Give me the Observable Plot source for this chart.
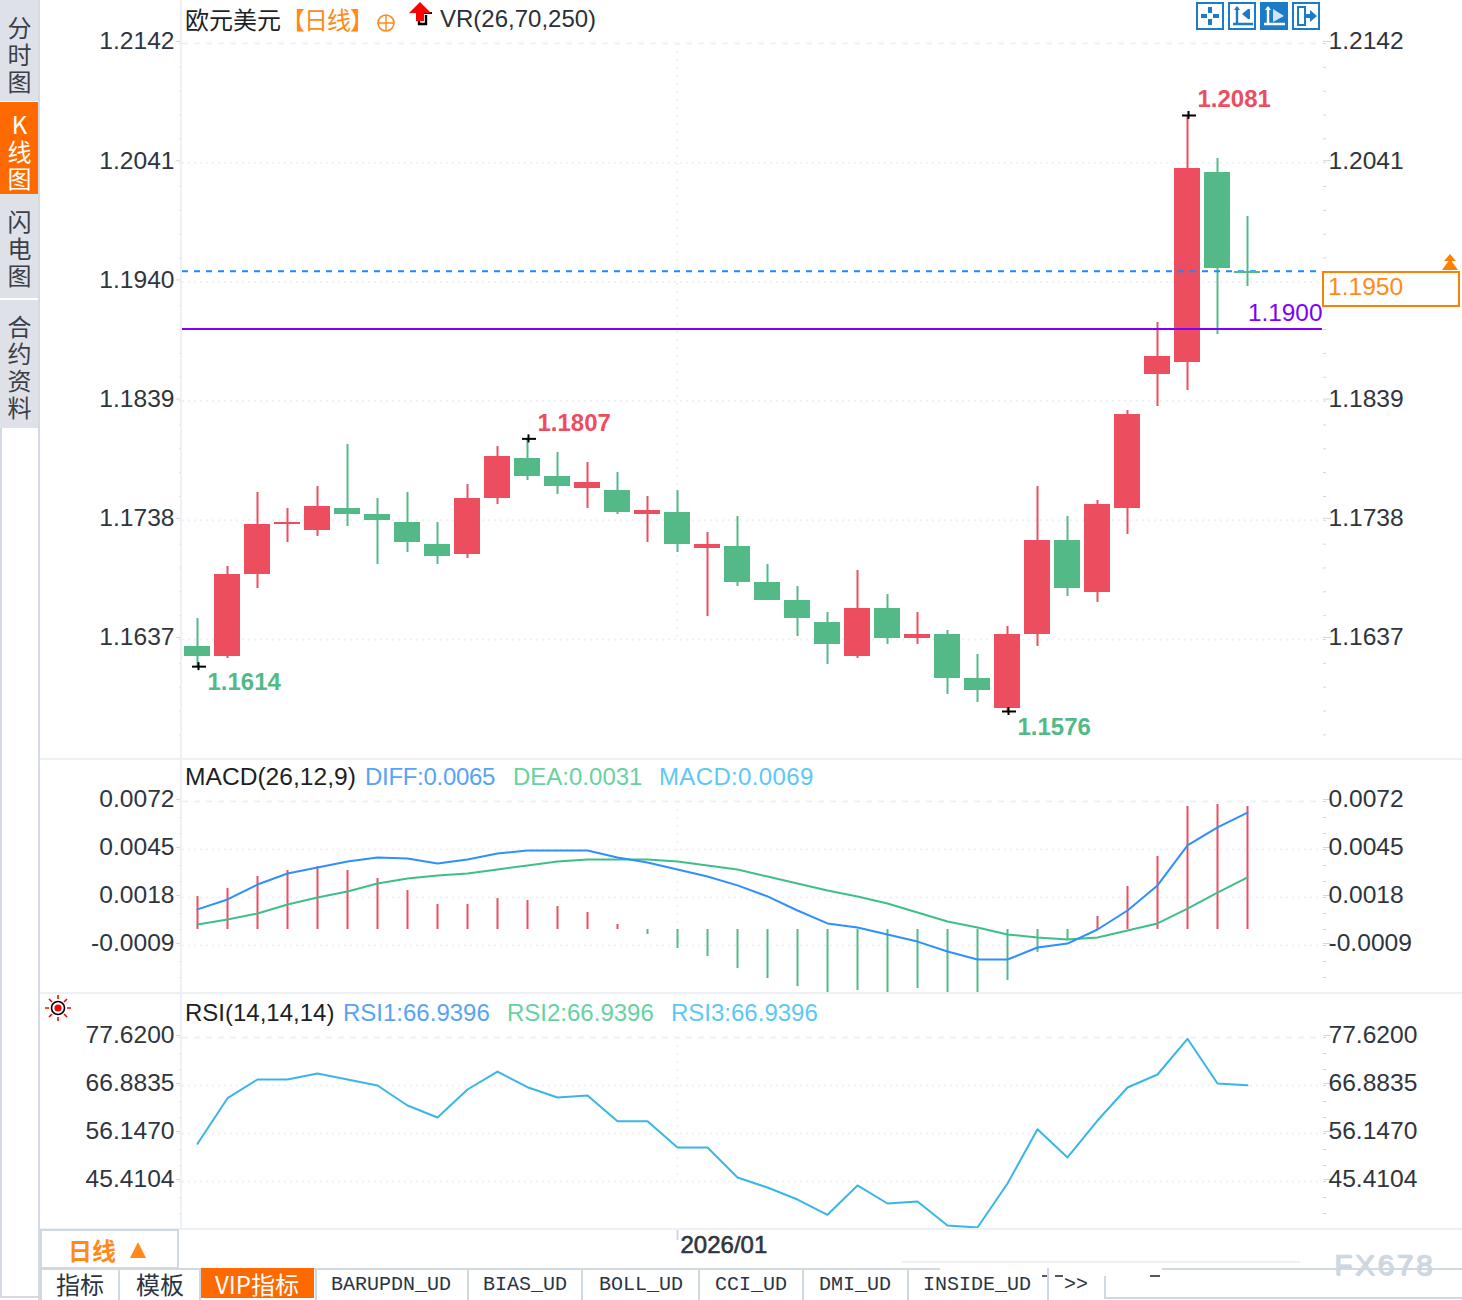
<!DOCTYPE html>
<html>
<head>
<meta charset="utf-8">
<script src="https://cdn.jsdelivr.net/npm/d3@7"></script>
<script src="https://cdn.jsdelivr.net/npm/@observablehq/plot@0.6"></script>
<style>
html,body{margin:0;padding:0;background:#fff}
#page{position:relative;width:1462px;height:1300px;overflow:hidden;font-family:"Liberation Sans",Arial,sans-serif;color:#2b3038}
#page svg.pl{position:absolute;left:0;overflow:visible}
.t{position:absolute;white-space:nowrap;font-size:24px;line-height:28px;z-index:5}
.b{position:absolute;z-index:4}
.cjk{font-family:"Noto Sans CJK SC","Liberation Sans",sans-serif}
.mono{font-family:"Liberation Mono",monospace;font-size:20px;color:#2b3442}
.side{writing-mode:vertical-rl;text-orientation:upright;letter-spacing:3px;line-height:24px;width:24px}
</style>
</head>
<body>
<div id="page"></div>
<script>
// ---------- data ----------
const opens  = [1.16311,1.16226,1.16921,1.17344,1.17294,1.17480,1.17429,1.17361,1.17175,1.17090,1.17565,1.17904,1.17751,1.17649,1.17632,1.17429,1.17446,1.17141,1.17158,1.16853,1.16700,1.16514,1.16226,1.16633,1.16378,1.16412,1.16040,1.15785,1.16412,1.17209,1.16768,1.17480,1.18615,1.18717,1.20327,1.19490];
const closes = [1.16226,1.16921,1.17344,1.17361,1.17497,1.17429,1.17378,1.17192,1.17073,1.17565,1.17921,1.17751,1.17666,1.17700,1.17446,1.17463,1.17175,1.17175,1.16853,1.16700,1.16548,1.16328,1.16633,1.16378,1.16412,1.16040,1.15938,1.16412,1.17209,1.16802,1.17514,1.18276,1.18768,1.20361,1.19513,1.19470];
const highs  = [1.16548,1.16989,1.17616,1.17480,1.17666,1.18022,1.17565,1.17616,1.17361,1.17683,1.18005,1.1807,1.17954,1.17870,1.17785,1.17582,1.17632,1.17277,1.17412,1.17005,1.16819,1.16599,1.16955,1.16751,1.16599,1.16446,1.16243,1.16480,1.17666,1.17412,1.17548,1.18310,1.19056,1.2081,1.20445,1.19954];
const lows   = [1.1614,1.16209,1.16802,1.17192,1.17243,1.17327,1.17005,1.17107,1.17005,1.17056,1.17514,1.17717,1.17599,1.17480,1.17429,1.17192,1.17107,1.16565,1.16819,1.16700,1.16395,1.16158,1.16209,1.16328,1.16328,1.15904,1.15836,1.1576,1.16311,1.16734,1.16684,1.17260,1.18344,1.18480,1.18954,1.19361];
const macdBars = [.00186,.00231,.00298,.00332,.00354,.00332,.00287,.00219,.00141,.00141,.00174,.00163,.00129,.00096,.00028,-.00028,-.00107,-.00152,-.00219,-.00276,-.00321,-.00354,-.00343,-.00354,-.00332,-.00354,-.00354,-.00287,-.00129,-.00062,.00073,.00242,.00411,.00692,.00703,.00692];
const diff = [.00113,.00169,.00253,.00315,.00349,.00383,.00405,.00399,.00371,.00394,.00428,.00444,.00444,.00444,.00405,.00377,.00338,.00298,.00248,.00186,.00107,.00034,.00011,-.00028,-.00068,-.00124,-.00169,-.00169,-.00101,-.00079,0,.00107,.00248,.00473,.00574,.00658];
const dea  = [.00028,.00056,.0009,.00141,.0018,.00214,.00259,.00287,.00304,.00315,.00338,.0036,.00383,.00394,.00394,.00394,.00383,.0036,.00338,.00298,.00259,.00219,.00186,.00146,.00096,.00045,.00011,-.00028,-.00045,-.00056,-.00045,-.00006,.00034,.00118,.00208,.00293];
const rsi  = [53.84,64.04,68.23,68.23,69.57,68.23,66.88,62.41,59.73,65.99,70.01,66.50,64.20,64.65,58.90,58.90,53.02,53.02,46.31,44.07,41.38,37.96,44.52,40.49,40.94,35.57,35.12,44.96,57.11,50.78,59.05,66.44,69.34,77.33,67.33,66.94];
const priceTicks = [1.2142,1.2041,1.1940,1.1839,1.1738,1.1637];
const priceTicksRight = [1.2142,1.2041,1.1839,1.1738,1.1637];
const macdTicks  = [0.0072,0.0045,0.0018,-0.0009];
const rsiTicks   = [77.62,66.8835,56.147,45.4104];
const extremes = [{i:0,p:1.1614,t:"1.1614",c:"#53b987",below:true},{i:11,p:1.1807,t:"1.1807",c:"#ec4d5f",below:false},{i:27,p:1.1576,t:"1.1576",c:"#53b987",below:true},{i:33,p:1.2081,t:"1.2081",c:"#ec4d5f",below:false}];
const supportLevel = 1.19;
const lastPrice = 1.1949;
const monthTick = {i:16,label:"2026/01"};

// ---------- drawing ----------
const UP="#ec4d5f",DOWN="#53b987",GRID="#eef1f5",TICK="#cfd7df",INK="#30353d";
const FONT='"Liberation Sans",Arial,sans-serif';
const TICKFONT=24.6;
const idx=d3.range(opens.length);
const slots=d3.range(38);
const fmt=d=>d.toFixed(4);
const page=document.getElementById("page");

function minorTicks(major,sub,n){
  const step=(major[0]-major[1])/sub;
  return d3.range(n).map(k=>major[0]-k*step);
}
function frameMarks(ticks,minor,rightTicks){
  return [
    Plot.ruleY(ticks.slice(1),{stroke:GRID,strokeWidth:2,strokeDasharray:"2,4"}),
    Plot.ruleY(ticks.slice(0,1),{stroke:GRID,strokeWidth:2,strokeDasharray:"6,6"}),
    Plot.ruleX([monthTick.i],{stroke:GRID,strokeWidth:2,strokeDasharray:"2,6"}),
    Plot.axisY({anchor:"left",ticks:minor,tickFormat:()=>"",tickSize:3,stroke:TICK,label:null}),
    Plot.axisY({anchor:"right",ticks:minor,tickFormat:()=>"",tickSize:3,stroke:TICK,label:null}),
    Plot.axisY({anchor:"left",ticks,tickFormat:fmt,tickSize:6,tickPadding:2,stroke:TICK,fill:INK,fontSize:TICKFONT,dy:-2,label:null}),
    Plot.axisY({anchor:"right",ticks:rightTicks||ticks,tickFormat:fmt,tickSize:8,tickPadding:-2,stroke:TICK,fill:INK,fontSize:TICKFONT,dy:-2,label:null})
  ];
}
function place(plot,top){
  plot.classList.add("pl");
  plot.style.top=top+"px";
  plot.style.position="absolute";
  plot.style.background="transparent";
  page.appendChild(plot);
}
const xScale={type:"band",domain:slots,paddingInner:0.1333,paddingOuter:0.06665,round:false,axis:null};
const base={width:1462,marginLeft:182,marginRight:140,x:xScale,style:{fontFamily:FONT,background:"transparent",overflow:"visible"}};
const color=i=>closes[i]>=opens[i]?UP:DOWN;

// main candlesticks
place(Plot.plot({...base,height:758,marginTop:43,marginBottom:119,
  y:{domain:[1.1637,1.2142],axis:null},
  marks:[
    ...frameMarks(priceTicks,minorTicks(priceTicks,5,30),priceTicksRight),
    Plot.ruleX(idx,{x:d=>d,y1:i=>lows[i],y2:i=>highs[i],stroke:color,strokeWidth:2}),
    Plot.barY(idx.slice(0,-1),{x:d=>d,y1:i=>opens[i],y2:i=>closes[i],fill:color,shapeRendering:"crispEdges"}),
    Plot.ruleY([lastPrice],{stroke:"#1e88ff",strokeWidth:2,strokeDasharray:"6,6"}),
    Plot.barY(idx.slice(-1),{x:d=>d,y1:i=>opens[i],y2:i=>closes[i],fill:color,shapeRendering:"crispEdges"}),
    Plot.ruleY([supportLevel],{stroke:"#8000ff",strokeWidth:2}),
    Plot.text([supportLevel],{y:d=>d,text:d=>d.toFixed(4),frameAnchor:"right",textAnchor:"end",dy:-16,fill:"#8000ff",fontSize:24.4}),
    Plot.tickY(extremes,{x:"i",y:"p",insetLeft:8,insetRight:4,stroke:"#000",strokeWidth:2}),
    Plot.ruleX(extremes,{x:"i",y1:d=>d.p-0.00034,y2:d=>d.p+0.00034,dx:1,stroke:"#000",strokeWidth:2}),
    Plot.text(extremes.filter(d=>d.below),{x:"i",y:"p",text:"t",fill:"c",dy:16,dx:10,textAnchor:"start",fontSize:24,fontWeight:"bold"}),
    Plot.text(extremes.filter(d=>!d.below),{x:"i",y:"p",text:"t",fill:"c",dy:-16,dx:10,textAnchor:"start",fontSize:24,fontWeight:"bold"})
  ]}),0);

// MACD
place(Plot.plot({...base,height:233,marginTop:42,marginBottom:47,
  y:{domain:[-0.0009,0.0072],axis:null},
  marks:[
    ...frameMarks(macdTicks,minorTicks(macdTicks,3,12)),
    Plot.ruleX(idx,{x:d=>d,y1:()=>0,y2:i=>macdBars[i],stroke:i=>macdBars[i]>=0?UP:DOWN,strokeWidth:2}),
    Plot.lineY(idx,{x:d=>d,y:i=>dea[i],stroke:"#3fbf88",strokeWidth:2}),
    Plot.lineY(idx,{x:d=>d,y:i=>diff[i],stroke:"#2f8fff",strokeWidth:2})
  ]}),759);

// RSI
place(Plot.plot({...base,height:235,marginTop:44,marginBottom:47,
  y:{domain:[45.4104,77.62],axis:null},
  marks:[
    ...frameMarks(rsiTicks,minorTicks(rsiTicks,3,12)),
    Plot.lineY(idx,{x:d=>d,y:i=>rsi[i],stroke:"#3ab5e8",strokeWidth:2})
  ]}),993);

// time axis
place(Plot.plot({...base,height:39,marginTop:0,marginBottom:0,
  marks:[
    Plot.ruleX([monthTick.i],{stroke:TICK,strokeWidth:2,insetBottom:28}),
    Plot.text([monthTick],{x:"i",text:"label",frameAnchor:"middle",textAnchor:"start",dx:3,dy:-4,fontSize:24,fill:INK,stroke:INK,strokeWidth:0.6})
  ]}),1229);

// ---------- page chrome ----------
function box(l,t,w,h,css){const d=document.createElement("div");d.className="b";d.style.cssText+=`left:${l}px;top:${t}px;width:${w}px;height:${h}px;${css||""}`;page.appendChild(d);return d;}
function text(s,l,cy,color,cls,css){const d=document.createElement("div");d.className="t "+(cls||"");d.textContent=s;d.style.cssText+=`left:${l}px;top:${cy-14}px;color:${color||INK};${css||""}`;page.appendChild(d);return d;}
function icon(l,t,w,h,inner){const d=document.createElement("div");d.className="b";d.style.cssText+=`left:${l}px;top:${t}px;width:${w}px;height:${h}px;`;d.innerHTML=`<svg width="${w}" height="${h}" viewBox="0 0 ${w} ${h}" xmlns="http://www.w3.org/2000/svg">${inner}</svg>`;page.appendChild(d);}

// side tabs
box(0,0,38,101,"background:#dfe1e8");
box(0,102,38,92,"background:#ff6a00");
box(0,194,38,104,"background:#dfe1e8");
box(0,300,38,128,"background:#dfe1e8");
box(38,0,2,1300,"background:#d3dae1");
box(0,428,2,870,"background:#d3dae1");
box(0,1296,40,2,"background:#d3dae1");
[["分时图",30,"#3a3f48"],["K线图",127,"#fff"],["闪电图",224,"#3a3f48"],["合约资料",329,"#3a3f48"]].forEach(([s,y,c])=>text(s,7,y,c,"cjk side"));

// frame lines
box(180,0,2,1228,"background:#edf1f5");
box(40,758,1422,2,"background:#edf1f5");
box(40,992,1422,2,"background:#edf1f5");
box(40,1228,1422,2,"background:#edf1f5");

// main header
text("欧元美元",185,19,"#1c1f24","cjk");
text("【日线】",281,19,"#ff8a1a","cjk","letter-spacing:-1px;");
icon(376,13,20,20,'<circle cx="10" cy="10" r="8" fill="none" stroke="#ff8a1a" stroke-width="1.6"/><path d="M2 10H18M10 2V18" stroke="#ff8a1a" stroke-width="1.4"/>');
icon(408,1,26,26,'<path d="M11 12V23H18V14" fill="none" stroke="#000" stroke-width="2.4"/><path d="M16 12H24" stroke="#000" stroke-width="2"/><path d="M12 1L23 12H16V20H8V12H1Z" fill="#f00"/>');
text("VR(26,70,250)",440,19,"#2b3038");

// toolbar
const B="#1a7bc8";
[1196,1228,1260,1292].forEach((l,i)=>{
  const on=i===2,fg=on?"#fff":B;
  const glyph=[
    `<path d="M14 5V11M14 17V23M5 14H11M17 14H23" stroke="${fg}" stroke-width="4"/>`,
    `<path d="M9 5V23M5 22H25" stroke="${fg}" stroke-width="2.4" fill="none"/><path d="M6 8L9 4L12 8Z" fill="${fg}"/><path d="M20 7V17L14 12Z" fill="${fg}"/><path d="M21 7V17" stroke="${fg}" stroke-width="2"/>`,
    `<path d="M8 5V23M4 22H25" stroke="${fg}" stroke-width="2.4" fill="none"/><path d="M5 8L8 4L11 8Z" fill="${fg}"/><path d="M13 7L24 14L13 20Z" fill="#cfe4f5"/>`,
    `<path d="M6 5H13V23H6Z" stroke="${fg}" stroke-width="2" fill="none"/><path d="M14 12H18V8L25 14L18 20V16H14Z" fill="${fg}"/>`
  ][i];
  icon(l,2,28,28,`<rect x="1" y="1" width="26" height="26" fill="${on?B:"#fff"}" stroke="${B}" stroke-width="2"/>${glyph}`);
});

// last price box
box(1322,271,134,32,"border:2px solid #ff7f00;background:#fff;");
text("1.1950",1328,287,"#ff8a1a","","font-size:24.6px;");
icon(1441,254,18,17,'<path d="M9 0L15 7H3Z" fill="#ff7f00"/><path d="M9 5L17 16H1Z" fill="#ff7f00"/>');

// sub-panel legends
text("MACD(26,12,9)",185,777,"#1c1f24","","font-size:24.6px;");
text("DIFF:0.0065",365,777,"#58a3f5","","letter-spacing:-.3px;");
text("DEA:0.0031",513,777,"#66d2a2");
text("MACD:0.0069",659,777,"#5cc8f5","","letter-spacing:.35px;");
text("RSI(14,14,14)",185,1013,"#1c1f24");
text("RSI1:66.9396",343,1013,"#58a3f5");
text("RSI2:66.9396",507,1013,"#66d2a2");
text("RSI3:66.9396",671,1013,"#5cc8f5");
icon(44,994,28,28,'<circle cx="14" cy="14" r="6.5" fill="#fff" stroke="#000" stroke-width="1.6"/><circle cx="14" cy="14" r="3.6" fill="#f00"/><path d="M14 1V5M14 23V27M1 14H5M23 14H27M5 5L8 8M20 20L23 23M23 5L20 8M8 20L5 23" stroke="#f00" stroke-width="1.6"/>');

// period selector
box(40,1229,135,36,"border:2px solid #d0d8e0;background:#fff;");
text("日线",68,1250,"#ff8a1a","cjk","font-weight:700;");
icon(129,1242,18,16,'<path d="M9 0L17 16H1Z" fill="#ff8a1a"/>');

// tabs
box(40,1268,900,2,"background:#d0d8e0");
box(1162,1268,300,2,"background:#d0d8e0");
box(902,1261,398,2,"background:#edf1f5");
box(1104,1297,358,2,"background:#d0d8e0");
box(1104,1276,2,22,"background:#d0d8e0");
[40,118,199,315,467,581,698,802,907,1047].forEach(x=>box(x,1268,2,32,"background:#d0d8e0"));
box(201,1268,113,30,"background:#ff6a00");
text("指标",56,1284,"#2b3442","cjk");
text("模板",136,1284,"#2b3442","cjk");
text("VIP指标",215,1284,"#fff","cjk");
[["BARUPDN_UD",331],["BIAS_UD",483],["BOLL_UD",599],["CCI_UD",715],["DMI_UD",819],["INSIDE_UD",923],[">>",1064]].forEach(([s,x])=>text(s,x,1285,"#2b3442","mono"));
box(1042,1275,5,2,"background:#556");
box(1055,1275,8,2,"background:#556");
box(1150,1275,10,2,"background:#556");

// watermark
text("FX678",1334,1265,"#cdd8e5","","font-size:30px;letter-spacing:2.5px;text-shadow:1px 1px 0 #d8d2ca;-webkit-text-stroke:.6px #cdd8e5;");
</script>
</body>
</html>
